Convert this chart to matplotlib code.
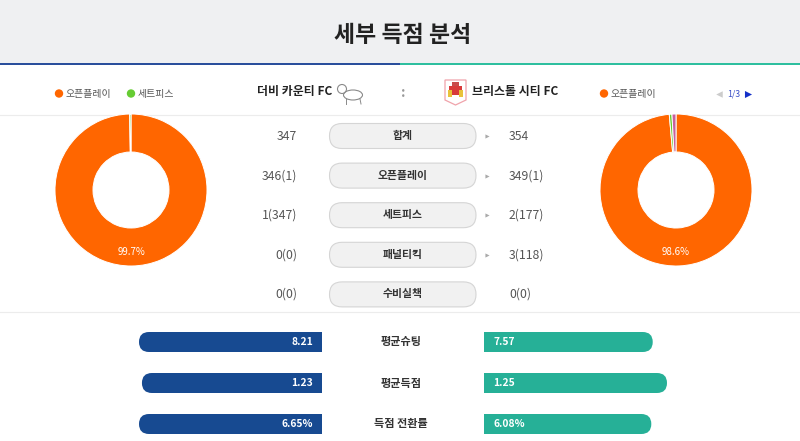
import matplotlib
matplotlib.use("Agg")
from matplotlib import pyplot as plt
from matplotlib.patches import Rectangle, FancyBboxPatch, Circle, Polygon, Ellipse

plt.rcParams['font.family'] = ['Noto Sans CJK KR', 'DejaVu Sans']

# ---- data ----
title = "세부 득점 분석"
home_team = "더비 카운티 FC"
away_team = "브리스톨 시티 FC"

pie_labels = ["오픈플레이", "세트피스", "패널티킥"]
pie_colors = ["#ff6600", "#66cc33", "#c8609c"]
home_pie = [346, 1]
away_pie = [349, 2, 3]

categories = ["합계", "오픈플레이", "세트피스", "패널티킥", "수비실책"]
home_vals = ["347", "346(1)", "1(347)", "0(0)", "0(0)"]
away_vals = ["354", "349(1)", "2(177)", "3(118)", "0(0)"]
show_arrow = [True, True, True, True, False]

stat_labels = ["평균슈팅", "평균득점", "득점 전환률"]
home_stats = [8.21, 1.23, 6.65]
away_stats = [7.57, 1.25, 6.08]
stat_suffix = ["", "", "%"]

W, H = 800, 441
BLUE = "#174a91"
TEAL = "#26b097"

fig = plt.figure(figsize=(W / 100, H / 100), dpi=100)
ax = fig.add_axes([0, 0, 1, 1])
ax.set_xlim(0, W)
ax.set_ylim(H, 0)
ax.axis('off')

# header
ax.add_patch(Rectangle((0, 0), W, 63, color="#eff0f2", lw=0))
ax.add_patch(Rectangle((0, 62.5), 400, 2.5, color="#2a4f9c", lw=0))
ax.add_patch(Rectangle((400, 62.5), 400, 2.5, color="#2ebf9f", lw=0))
ax.text(403, 36, title, ha='center', va='center', fontsize=16.5, fontweight='bold', color="#222222")

# separators
ax.plot([0, W], [115, 115], color="#ececec", lw=0.8)
ax.plot([0, W], [312, 312], color="#ececec", lw=0.8)

# legends
def legend_item(x, color, text):
    ax.add_patch(Circle((x, 93.5), 4.2, color=color, lw=0))
    ax.text(x + 6.5, 93.5, text, ha='left', va='center', fontsize=7.1, color="#555555")

legend_item(59, pie_colors[0], pie_labels[0])
legend_item(131, pie_colors[1], pie_labels[1])
legend_item(604, pie_colors[0], pie_labels[0])

# team names
ax.text(332, 92, home_team, ha='right', va='center', fontsize=8.6, fontweight='bold', color="#222222")
ax.text(472, 92, away_team, ha='left', va='center', fontsize=8.6, fontweight='bold', color="#222222")
ax.text(403, 93, ":", ha='center', va='center', fontsize=10, fontweight='bold', color="#999999")

# ram logo (rough)
ax.add_patch(Ellipse((353, 95), 19, 10, fill=False, ec="#8a8a8a", lw=0.8))
ax.add_patch(Circle((342, 89), 4.5, fill=False, ec="#8a8a8a", lw=0.8))
ax.plot([346, 346], [99, 104], color="#8a8a8a", lw=0.7)
ax.plot([360, 361], [99, 104], color="#8a8a8a", lw=0.7)

# bristol logo (rough)
ax.add_patch(Polygon([(445, 80), (466, 80), (466, 100), (455.5, 105), (445, 100)],
                     closed=True, fc="white", ec="#f0a3ab", lw=0.9))
ax.add_patch(Rectangle((449, 86), 13, 9, color="#d83a3a", lw=0))
ax.add_patch(Rectangle((448, 90), 4, 7, color="#e9c23a", lw=0))
ax.add_patch(Rectangle((459, 90), 4, 7, color="#e9c23a", lw=0))
ax.add_patch(Rectangle((452, 82), 7, 4, color="#c94a4a", lw=0))

# pager
ax.scatter([719], [94], marker='<', s=22, color="#cccccc", lw=0)
ax.text(733.5, 94, "1/3", ha='center', va='center', fontsize=6.3, color="#3a4fc8")
ax.scatter([748], [94], marker='>', s=26, color="#1530c8", lw=0)

# donuts
def donut(cx, cy, r, vals, colors):
    pa = fig.add_axes([(cx - r) / W, 1 - (cy + r) / H, 2 * r / W, 2 * r / H])
    pa.pie(vals, colors=colors, startangle=90, counterclock=False, radius=1,
           wedgeprops=dict(width=0.5, edgecolor='white', linewidth=0.7))
    pa.set_xlim(-1, 1)
    pa.set_ylim(-1, 1)
    pa.axis('off')
    pct = vals[0] / sum(vals) * 100
    pa.text(0, -0.81, f"{pct:.1f}%", ha='center', va='center', fontsize=7, color="white")

donut(131, 190, 76, home_pie, pie_colors[:len(home_pie)])
donut(676, 190, 76, away_pie, pie_colors[:len(away_pie)])

# comparison table
for i, cat in enumerate(categories):
    y = 136 + i * 39.6
    ax.add_patch(FancyBboxPatch((329.5, y - 12.5), 146.5, 25,
                                boxstyle="round,pad=0,rounding_size=12.5",
                                fc="#f1f1f1", ec="#d5d5d5", lw=0.8))
    ax.text(403, y, cat, ha='center', va='center', fontsize=7.8, fontweight='bold', color="#333333")
    ax.text(297, y, home_vals[i], ha='right', va='center', fontsize=8.8, color="#555555")
    ax.text(509, y, away_vals[i], ha='left', va='center', fontsize=8.8, color="#555555")
    if show_arrow[i]:
        ax.scatter([487], [y], marker='>', s=9, color="#aaaaaa", lw=0)

# average stat bars
L = 183
for i, lab in enumerate(stat_labels):
    y = 342 + i * 41
    top = max(home_stats[i], away_stats[i])
    hl = home_stats[i] / top * L
    al = away_stats[i] / top * L
    ax.add_patch(FancyBboxPatch((322 - hl, y - 10), hl, 20,
                                boxstyle="round,pad=0,rounding_size=10", fc=BLUE, ec='none'))
    ax.add_patch(Rectangle((322 - 12, y - 10), 12, 20, color=BLUE, lw=0))
    ax.add_patch(FancyBboxPatch((484, y - 10), al, 20,
                                boxstyle="round,pad=0,rounding_size=10", fc=TEAL, ec='none'))
    ax.add_patch(Rectangle((484, y - 10), 12, 20, color=TEAL, lw=0))
    ax.text(313, y, f"{home_stats[i]:.2f}{stat_suffix[i]}", ha='right', va='center',
            fontsize=7.4, fontweight='bold', color="white")
    ax.text(493, y, f"{away_stats[i]:.2f}{stat_suffix[i]}", ha='left', va='center',
            fontsize=7.4, fontweight='bold', color="white")
    ax.text(401, y, lab, ha='center', va='center', fontsize=8, fontweight='bold', color="#333333")

plt.savefig("out.png", dpi=100)
plt.close()
